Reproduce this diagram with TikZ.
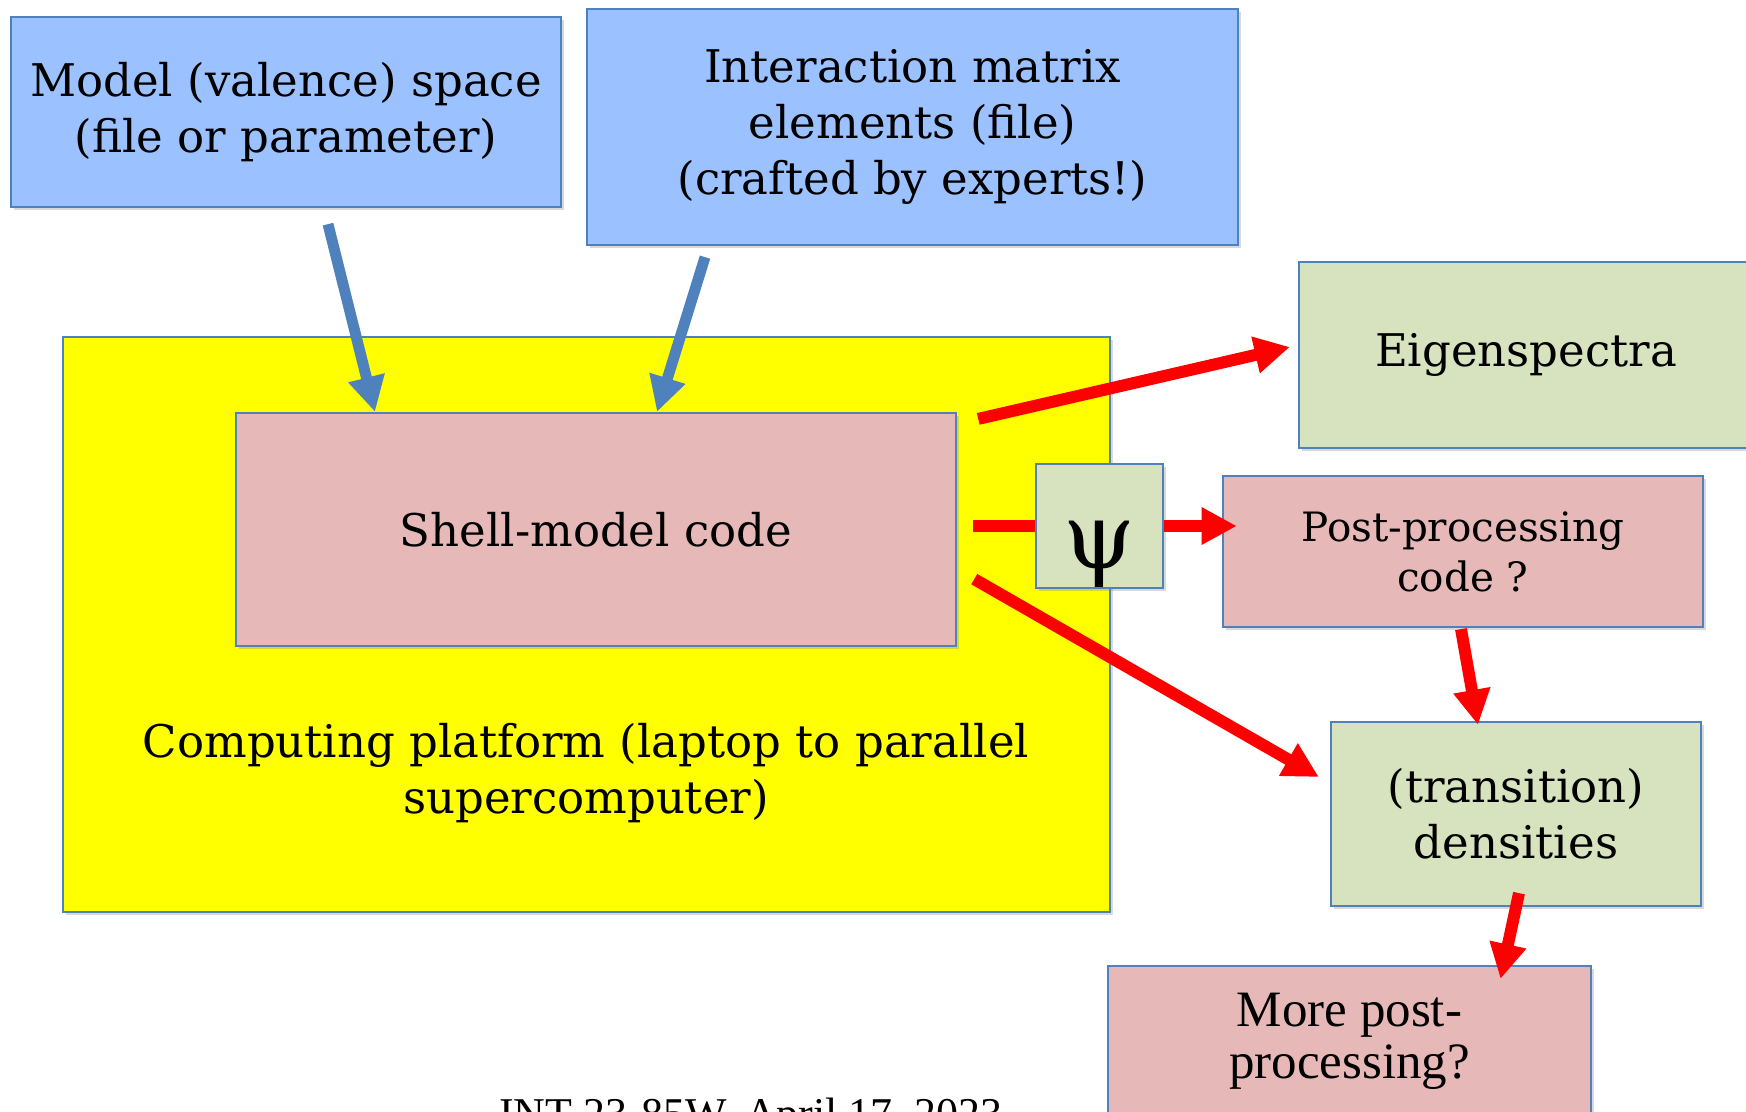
\documentclass[tikz,border=0pt]{standalone}
\usepackage{fontspec}
\setmainfont{DejaVu Serif}
\newfontfamily\timesfont{Liberation Serif}
\usepackage{tikz}
\usetikzlibrary{arrows.meta, shadows, calc}
\definecolor{boxblue}{RGB}{155,194,255}
\definecolor{edgeblue}{RGB}{79,129,189}
\definecolor{boxpink}{RGB}{230,184,183}
\definecolor{boxgreen}{RGB}{215,227,190}
\definecolor{platyellow}{RGB}{255,255,0}
\newcommand{\boxfont}{\fontsize{12.8}{16}\selectfont}
\newcommand{\ppfont}{\fontsize{11.5}{14.2}\selectfont}
\newcommand{\morefont}{\timesfont\fontsize{14.5}{14.8}\selectfont}

\begin{document}
\begin{tikzpicture}[x=0.01cm, y=-0.01cm,
    box/.style={draw=edgeblue, line width=0.6pt, inner sep=0pt, align=center, font=\boxfont,
      drop shadow={shadow xshift=0.8pt, shadow yshift=-0.9pt, opacity=0.3}},
    inbox/.style={box, fill=boxblue},
    bluearr/.style={draw=edgeblue, line width=3.1pt, -{Triangle[length=10pt, width=10pt]}},
    redline/.style={draw=red, line width=3.4pt},
    redarr/.style={redline, -{Triangle[length=10pt, width=10pt]}}]
\useasboundingbox (0,0) rectangle (1746,1111);
%Dia1
  \node[inbox, minimum width=5.5cm, minimum height=1.9cm] (msp) at (286,112) {Model (valence) space\\(file or parameter)};
  \node[inbox, minimum width=6.51cm, minimum height=2.36cm] (ime) at (912.5,127) {Interaction matrix\\elements (file)\\(crafted by experts!)};
  \node[box, fill=platyellow, minimum width=10.47cm, minimum height=5.75cm] (plat) at (586.5,624.5) {};
  \node[font=\boxfont, align=center] (pltxt) at (586,773) {Computing platform (laptop to parallel\\supercomputer)};
  \node[box, fill=boxpink, minimum width=7.2cm, minimum height=2.33cm] (smc) at (596,529.5) {Shell-model code};
  \node[box, fill=boxgreen, minimum width=4.54cm, minimum height=1.86cm] (eig) at (1526,355) {Eigenspectra};
  \node[box, fill=boxgreen, minimum width=1.27cm, minimum height=1.24cm] (wf) at (1099.5,526) {\raisebox{-12pt}[0pt][0pt]{\fontsize{26}{28}\selectfont ψ}};
  \node[box, fill=boxpink, minimum width=4.8cm, minimum height=1.51cm, font=\ppfont] (ppc) at (1463,551.5) {Post-processing\\code ?};
  \node[box, fill=boxgreen, minimum width=3.7cm, minimum height=1.84cm] (tden) at (1516,814) {(transition)\\densities};
  \node[box, fill=boxpink, minimum width=4.83cm, minimum height=1.5cm, font=\morefont] (mpp) at (1349.5,1041) {More post-\\processing?};
  \node[font=\timesfont\fontsize{12.5}{15}\selectfont, anchor=base] (date) at (751,1128) {INT-23-85W, April 17, 2023};
  %inputs
  \draw[bluearr] ($(msp.south)+(42,16)$) -- ($(smc.north)+(-221,0)$);
  \draw[bluearr] ($(ime.south)+(-207.5,11)$) -- ($(smc.north)+(61,0)$);
  %outputs
  \draw[redarr] ($(smc.north east)+(21,7)$) -- ($(eig.west)+(-8,-8)$);
  \draw[redline] ($(smc.east)+(16,-3.5)$) -- (wf.west);
  \draw[redarr] (wf.east) -- ($(wf.east -| ppc.west)+(15,0)$);
  \draw[redarr] ($(smc.south east)+(17,-68)$) -- ($(tden.west)+(-11,-37)$);
  \draw[redarr] ($(ppc.south)+(-2,1)$) -- ($(tden.north)+(-38,4)$);
  \draw[redarr] ($(tden.south)+(3,-14)$) -- ($(mpp.north)+(151,14)$);
\end{tikzpicture}
\end{document}
